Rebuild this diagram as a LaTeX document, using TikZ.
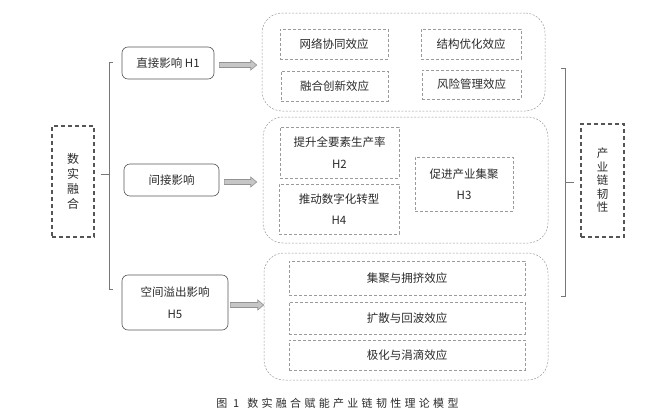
\documentclass[tikz,border=0pt]{standalone}
\usepackage{fontspec}
\setmainfont{Noto Sans CJK SC}
\newfontfamily\capfont[LetterSpace=30]{Noto Sans CJK SC}
\usetikzlibrary{calc}
\definecolor{txt}{HTML}{2A2A2A}
\definecolor{ln}{HTML}{555555}
\definecolor{dl}{HTML}{9A9A9A}
\tikzset{
  base/.style={text=txt, inner sep=0pt, align=center, font=\fontsize{11.5}{21.5}\selectfont},
  rbox/.style={base, draw=ln, line width=0.6pt, rounded corners=6pt},
  grp/.style={draw=dl, line width=0.5pt, dash pattern=on 2pt off 1.5pt, rounded corners=20pt, inner sep=0pt},
  ibox/.style={base, draw=dl, line width=0.5pt, dash pattern=on 3pt off 2pt},
  tbox/.style={base, draw=ln, line width=1.2pt, dash pattern=on 4pt off 3pt},
  brk/.style={draw=ln!80, line width=0.9pt},
  barr/.style={draw=gray!85, fill=gray!45, line width=0.6pt},
}
\newcommand\blockarrow[2]{%
  \draw[barr] let \p1=(#1), \p2=(#2) in
    (\x1,\y1+2.5pt) -- (\x2-6pt,\y1+2.5pt) -- (\x2-6pt,\y1+5pt) -- (\x2,\y1)
    -- (\x2-6pt,\y1-5pt) -- (\x2-6pt,\y1-2.5pt) -- (\x1,\y1-2.5pt) -- cycle;}
\begin{document}
\begin{tikzpicture}[x=1pt,y=-1pt]
\useasboundingbox (0,0) rectangle (658,415);
% side boxes
\node[tbox, minimum width=42pt, minimum height=111pt, font=\fontsize{12}{15}\selectfont] (lb) at (73,181.5) {数\\实\\融\\合};
\node[tbox, minimum width=43pt, minimum height=113pt, font=\fontsize{11.5}{13.5}\selectfont] (rb) at (602.5,180.5) {产\\业\\链\\韧\\性};
% impact boxes
\node[rbox, minimum width=92pt, minimum height=32pt] (h1) at (168,63) {直接影响 H1};
\node[rbox, minimum width=95pt, minimum height=32pt] (h2) at (171.5,180) {间接影响};
\node[rbox, minimum width=106pt, minimum height=55pt] (h5) at (175,302.5) {空间溢出影响\\H5};
% groups
\node[grp, minimum width=283pt, minimum height=98pt] (g1) at (403.5,62) {};
\node[grp, minimum width=285pt, minimum height=126pt] (g2) at (405.5,180) {};
\node[grp, minimum width=284pt, minimum height=127pt] (g3) at (406,316.5) {};
% group 1 items
\node[ibox, minimum width=108pt, minimum height=30pt] (e1) at (334,44) {网络协同效应};
\node[ibox, minimum width=107pt, minimum height=30pt] (e2) at (334.5,86) {融合创新效应};
\node[ibox, minimum width=100pt, minimum height=30pt] (e3) at (471,44) {结构优化效应};
\node[ibox, minimum width=99pt, minimum height=29pt] (e4) at (471.5,84.5) {风险管理效应};
% group 2 items
\node[ibox, minimum width=119pt, minimum height=51pt] (f1) at (339.5,152.5) {提升全要素生产率\\H2};
\node[ibox, minimum width=120pt, minimum height=50pt] (f2) at (339,209) {推动数字化转型\\H4};
\node[ibox, minimum width=98pt, minimum height=54pt] (f3) at (464,184) {促进产业集聚\\H3};
% group 3 items
\node[ibox, minimum width=236pt, minimum height=34pt] (s1) at (407,278) {集聚与拥挤效应};
\node[ibox, minimum width=236pt, minimum height=32pt] (s2) at (407,318) {扩散与回波效应};
\node[ibox, minimum width=236pt, minimum height=30pt] (s3) at (407,355) {极化与涓滴效应};
% left bracket
\coordinate (lt) at (109,62);
\coordinate (lbm) at (109,174);
\coordinate (lbo) at (109,289);
\draw[brk] ([xshift=4pt]lt) -- (lt) -- (lbo) -- ([xshift=4pt]lbo);
\draw[brk] ([shift={(6,-7.5)}]lb.east) -- (lbm);
% right bracket
\coordinate (rt) at (565,68);
\coordinate (rm) at (565,182);
\coordinate (ro) at (565,296);
\draw[brk] ([xshift=-4pt]rt) -- (rt) -- (ro) -- ([xshift=-4pt]ro);
\draw[brk] (rm) -- ([shift={(-6,1.5)}]rb.west);
% arrows
\coordinate (a1s) at ([shift={(5,2)}]h1.east);
\coordinate (a1e) at ($(g1.west|-a1s)+(-5,0)$);
\blockarrow{a1s}{a1e}
\coordinate (a2s) at ([shift={(5,2)}]h2.east);
\coordinate (a2e) at ($(g2.west|-a2s)+(-6,0)$);
\blockarrow{a2s}{a2e}
\coordinate (a3s) at ([shift={(2,2.5)}]h5.east);
\coordinate (a3e) at ($(g3.west|-a3s)+(0,0)$);
\blockarrow{a3s}{a3e}
% caption
\node[text=txt, inner sep=0pt, font=\capfont\fontsize{11}{13}\selectfont] (cap) at (337.5,403) {图 1\hspace{8pt}数实融合赋能产业链韧性理论模型};
\end{tikzpicture}
\end{document}
